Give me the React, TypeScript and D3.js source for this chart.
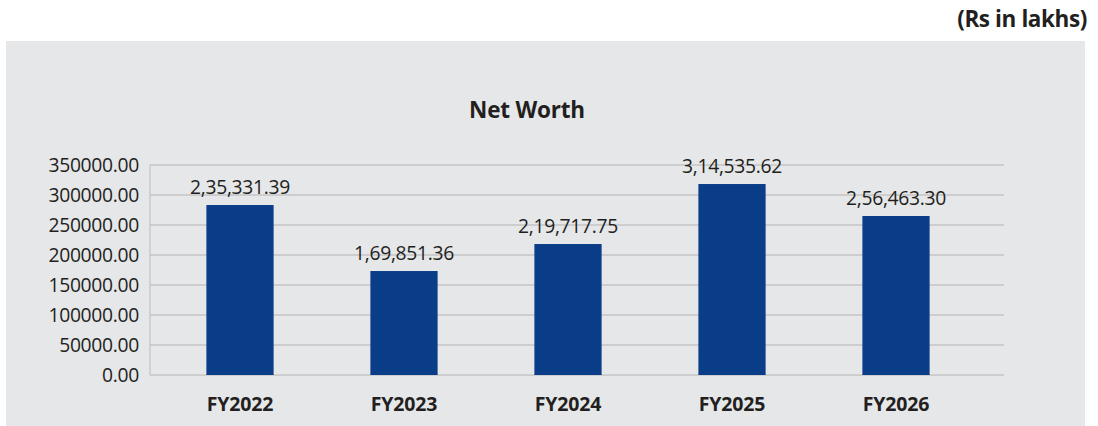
import React from "react";
import * as d3 from "d3";

const categories = ["FY2022", "FY2023", "FY2024", "FY2025", "FY2026"];
const barValues = [283300, 173300, 218300, 318300, 265000];
const valueLabels = ["2,35,331.39", "1,69,851.36", "2,19,717.75", "3,14,535.62", "2,56,463.30"];
const yTicks = [0, 50000, 100000, 150000, 200000, 250000, 300000, 350000];

const W = 1098;
const H = 426;
const FONT = "'Open Sans', 'Noto Sans', sans-serif";
const TEXT = "#231f20";

export default function App() {
  const y = d3.scaleLinear().domain([0, 350000]).range([375, 165]);
  const x = d3
    .scaleBand<string>()
    .domain(categories)
    .range([158, 978])
    .paddingInner(0.59)
    .paddingOuter(0.295);
  const plotLeft = 150;
  const plotRight = 1004;

  return (
    <svg
      width={W}
      height={H}
      style={{ position: "fixed", left: 0, top: 0, background: "#ffffff" }}
    >
      <rect x={6} y={41} width={1079} height={H - 41} fill="#e6e7e9" />
      <text
        x={1087}
        y={27}
        textAnchor="end"
        fontFamily={FONT}
        fontWeight={700}
        fontSize={22.5}
        letterSpacing={-0.4}
        fill={TEXT}
      >
        (Rs in lakhs)
      </text>
      <text
        x={527}
        y={118}
        textAnchor="middle"
        fontFamily={FONT}
        fontWeight={700}
        fontSize={22.5}
        letterSpacing={-0.2}
        fill={TEXT}
      >
        Net Worth
      </text>
      {yTicks.map((t) => (
        <g key={t}>
          <line
            x1={plotLeft}
            x2={plotRight}
            y1={y(t)}
            y2={y(t)}
            stroke="#c4c5c7"
            strokeWidth={1.3}
          />
          <text
            x={139}
            y={y(t) + 6.5}
            textAnchor="end"
            fontFamily={FONT}
            fontSize={19.3}
            fill={TEXT}
            letterSpacing={-0.3}
          >
            {t.toFixed(2)}
          </text>
        </g>
      ))}
      <line x1={plotLeft} x2={plotLeft} y1={y(350000)} y2={y(0)} stroke="#c4c5c7" strokeWidth={1.3} />
      {categories.map((c, i) => (
        <g key={c}>
          <rect
            x={x(c)!}
            y={y(barValues[i])}
            width={x.bandwidth()}
            height={y(0) - y(barValues[i])}
            fill="#0a3d87"
          />
          <text
            x={x(c)! + x.bandwidth() / 2}
            y={y(barValues[i]) - 11}
            textAnchor="middle"
            fontFamily={FONT}
            fontSize={19.3}
            fill={TEXT}
            letterSpacing={-0.3}
          >
            {valueLabels[i]}
          </text>
          <text
            x={x(c)! + x.bandwidth() / 2}
            y={411}
            textAnchor="middle"
            fontFamily={FONT}
            fontWeight={700}
            fontSize={19.5}
            letterSpacing={-0.2}
            fill={TEXT}
          >
            {c}
          </text>
        </g>
      ))}
    </svg>
  );
}
